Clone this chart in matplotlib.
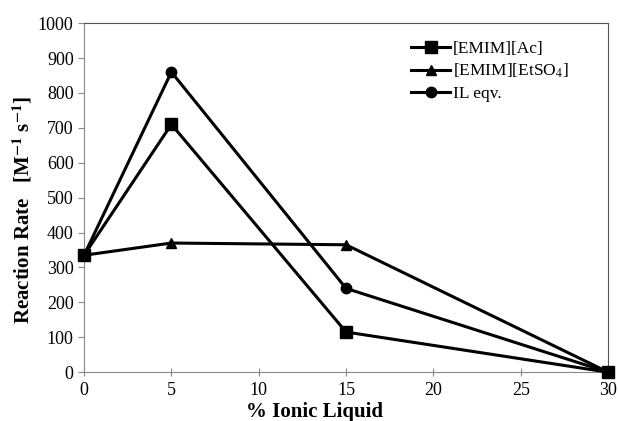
import matplotlib
matplotlib.use("Agg")
import matplotlib.pyplot as plt

# Data
ionic_liquid_pct = [0, 5, 15, 30]
emim_ac = [335, 710, 115, 0]
emim_etso4 = [335, 370, 365, 0]
il_eqv = [335, 860, 240, 0]

plt.rcParams["font.family"] = "Liberation Serif"
plt.rcParams["mathtext.fontset"] = "stix"

fig = plt.figure(figsize=(6.18, 4.21), dpi=100)
ax = fig.add_axes([0.136, 0.116, 0.848, 0.829])

ax.plot(ionic_liquid_pct, emim_ac, color="black", lw=2.2, marker="s", ms=9,
        label="[EMIM][Ac]", clip_on=False, zorder=3)
ax.plot(ionic_liquid_pct, emim_etso4, color="black", lw=2.2, marker="^", ms=7,
        label="[EMIM][EtSO$_4$]", clip_on=False, zorder=3)
ax.plot(ionic_liquid_pct, il_eqv, color="black", lw=2.2, marker="o", ms=7.5,
        label="IL eqv.", clip_on=False, zorder=3)

ax.set_xlim(0, 30)
ax.set_ylim(0, 1000)
ax.set_xticks(range(0, 31, 5))
ax.set_yticks(range(0, 1001, 100))
ax.tick_params(axis="both", labelsize=13, color="#888888", length=4)
ax.tick_params(axis="x", direction="inout", length=6, pad=4)

for side in ["left", "bottom"]:
    ax.spines[side].set_color("#888888")
for side in ["top", "right"]:
    ax.spines[side].set_color("#555555")

ax.set_xlabel("% Ionic Liquid", fontsize=15, fontweight="bold")
ax.xaxis.set_label_coords(0.44, -0.085)
ax.set_ylabel("Reaction Rate   [M$^{\\mathbf{-1}}$ s$^{\\mathbf{-1}}$]",
              fontsize=15, fontweight="bold")
ax.yaxis.set_label_coords(-0.095, 0.464)

ax.legend(loc="upper left", bbox_to_anchor=(0.595, 0.995), frameon=False,
          fontsize=12.5, handlelength=2.2, handletextpad=0.2, labelspacing=0.3)

fig.savefig("out.png", dpi=100)
